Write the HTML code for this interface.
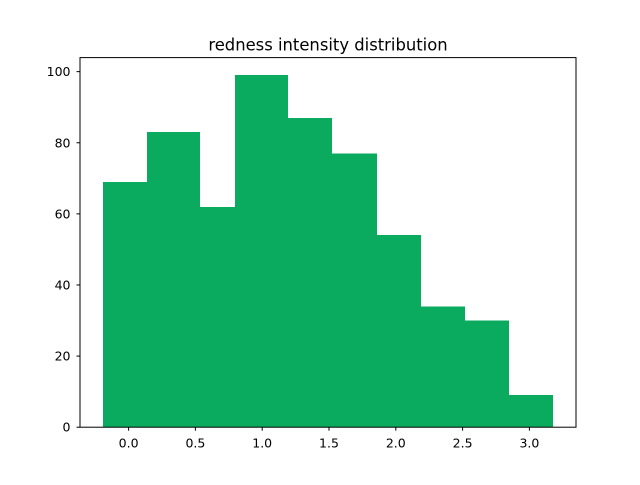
<!DOCTYPE html>
<html><head><meta charset="utf-8"><style>
body{margin:0;background:#fff;}
svg text{font-family:"DejaVu Sans","Liberation Sans",sans-serif;}
</style></head><body>
<svg id="chart" width="640" height="480" xmlns="http://www.w3.org/2000/svg">
<text x="328" y="50.5" font-size="16.4" text-anchor="middle">redness intensity distribution</text>
<g id="bars" shape-rendering="crispEdges"></g>
<g id="xticks"></g>
<g id="yticks"></g>
<rect x="80" y="57.6" width="496" height="369.6" fill="none" stroke="#000" stroke-width="1"/>
</svg>
<script>
const binEdges = [-0.192, 0.138, 0.534, 0.796, 1.193, 1.522, 1.859, 2.188, 2.517, 2.847, 3.177];
const counts = [69, 83, 62, 99, 87, 77, 54, 34, 30, 9];
const xTickValues = [0.0, 0.5, 1.0, 1.5, 2.0, 2.5, 3.0];
const xTickLabels = ["0.0", "0.5", "1.0", "1.5", "2.0", "2.5", "3.0"];
const yTickValues = [0, 20, 40, 60, 80, 100];

const L = 80, R = 576, T = 57.6, B = 427.2;
const xmin = -0.3638, xmax = 3.3488;
const ymax = 103.95;
const sx = v => L + (v - xmin) / (xmax - xmin) * (R - L);
const sy = v => B - v / ymax * (B - T);
const NS = "http://www.w3.org/2000/svg";
const bars = document.getElementById('bars');
counts.forEach((c, i) => {
  const x0 = sx(binEdges[i]), x1 = sx(binEdges[i + 1]);
  const r = document.createElementNS(NS, 'rect');
  r.setAttribute('x', x0); r.setAttribute('width', x1 - x0);
  r.setAttribute('y', sy(c)); r.setAttribute('height', B - sy(c));
  r.setAttribute('fill', '#0aab5f');
  
  
  bars.appendChild(r);
});
const xg = document.getElementById('xticks');
xTickValues.forEach((v, i) => {
  const x = sx(v);
  const l = document.createElementNS(NS, 'line');
  l.setAttribute('x1', x); l.setAttribute('x2', x); l.setAttribute('y1', B); l.setAttribute('y2', B + 3.5);
  l.setAttribute('stroke', '#000');
  
  
  xg.appendChild(l);
  const t = document.createElementNS(NS, 'text');
  t.setAttribute('x', x); t.setAttribute('y', B + 20.5); t.setAttribute('font-size', '12.5');
  t.setAttribute('text-anchor', 'middle'); t.textContent = xTickLabels[i];
  
  
  xg.appendChild(t);
});
const yg = document.getElementById('yticks');
yTickValues.forEach(v => {
  const y = sy(v);
  const l = document.createElementNS(NS, 'line');
  l.setAttribute('x1', L - 3.5); l.setAttribute('x2', L); l.setAttribute('y1', y); l.setAttribute('y2', y);
  l.setAttribute('stroke', '#000');
  
  
  yg.appendChild(l);
  const t = document.createElementNS(NS, 'text');
  t.setAttribute('x', L - 9.5); t.setAttribute('y', y + 4.5); t.setAttribute('font-size', '12.5');
  t.setAttribute('text-anchor', 'end'); t.textContent = String(v);
  
  
  yg.appendChild(t);
});
</script>
</body></html>
